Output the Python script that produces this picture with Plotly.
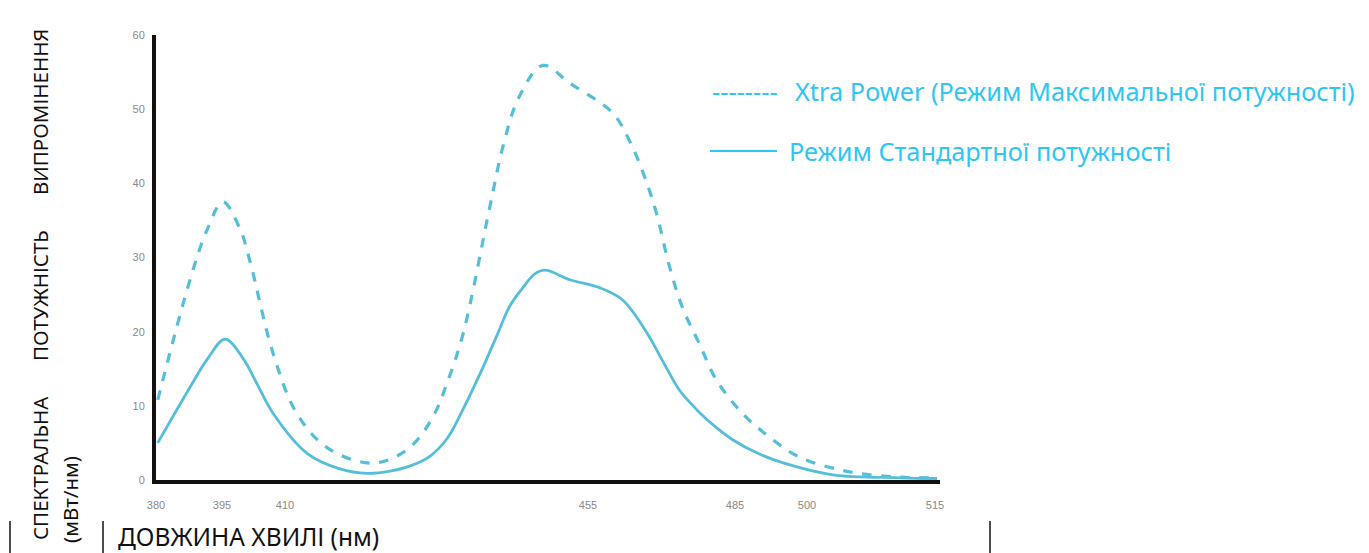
import plotly.graph_objects as go

# ---- data ----
wl_max = [380.3, 385.9, 388.9, 391.6, 394.6, 396.3, 400.3, 404.4, 409.6, 416.6, 420.6, 424.6, 428.1, 430.5,
          433.3, 437.9, 440.2, 442.9, 447.1, 451.8, 459.2, 462.1, 464.7, 466.8, 469.0, 471.3,
          474.3, 477.2, 481.7, 486.4, 491.6, 500.3, 508.9, 515.5]
pw_max = [10.8, 27.0, 33.8, 37.5, 33.8, 29.5, 17.1, 9.0, 4.4, 2.3, 2.8, 4.8, 8.6, 13.1,
          19.8, 36.8, 45.0, 51.5, 55.9, 53.5, 49.5, 45.8, 41.0, 36.0, 29.0, 23.3,
          18.3, 13.5, 9.0, 5.8, 3.1, 1.1, 0.4, 0.3]

wl_std = [380.3, 385.9, 388.9, 392.0, 395.1, 397.5, 400.3, 406.2, 411.9, 416.6, 420.6, 424.1, 427.5, 430.5,
          433.3, 436.2, 439.2, 441.4, 443.7, 445.7, 447.5, 451.8, 457.0, 460.9, 465.2, 468.0,
          470.9, 472.7, 474.4, 477.0, 480.1, 484.4, 488.8, 497.4, 509.1, 515.5]
pw_std = [5.0, 12.5, 16.3, 19.0, 16.4, 13.0, 9.0, 3.6, 1.5, 0.9, 1.2, 1.9, 3.2, 5.6,
          9.6, 14.3, 19.6, 23.5, 26.0, 27.8, 28.3, 27.0, 25.9, 24.3, 19.8, 15.9,
          12.0, 10.4, 9.0, 7.2, 5.4, 3.6, 2.3, 0.7, 0.3, 0.2]

tick_pos = [380, 391.45, 402.38, 454.94, 480.43, 492.92, 515.13]
tick_labels = ["380", "395", "410", "455", "485", "500", "515"]
y_ticks = [0, 10, 20, 30, 40, 50, 60]

name_max = "Xtra Power (Режим Максимальної потужності)"
name_std = "Режим Стандартної потужності"

curve_color = "#55BEDB"
legend_color = "#2EC6F5"
font_main = "Noto Sans, Open Sans, sans-serif"
tick_font = dict(family="Liberation Sans Narrow, Liberation Sans, sans-serif", size=11, color="#8a8a8a")

fig = go.Figure()
fig.add_trace(go.Scatter(x=wl_max, y=pw_max, mode="lines", name=name_max,
                         line=dict(color=curve_color, width=3.2, dash="dash", shape="spline", smoothing=1.0)))
fig.add_trace(go.Scatter(x=wl_std, y=pw_std, mode="lines", name=name_std,
                         line=dict(color=curve_color, width=2.8, shape="spline", smoothing=1.0)))

# page pixel frame (the browser body adds an 8px offset)
OFF = 8
W, H = 1369 - OFF, 553 - OFF
L, R, T, B = 156, 940, 35, 480          # plot area in page pixels
pw_, ph_ = R - L, B - T


def px(x):
    return (x - L) / pw_


def py(y):
    return (B - y) / ph_


annotations = []
for txt, cx, cy in [("ВИПРОМІНЕННЯ", 40, 112), ("ПОТУЖНІСТЬ", 40, 296),
                    ("СПЕКТРАЛЬНА", 40, 468), ("(мВт/нм)", 70, 500)]:
    annotations.append(dict(text=txt, x=px(cx), y=py(cy), xref="paper", yref="paper",
                            textangle=-90, showarrow=False, xanchor="center", yanchor="middle",
                            font=dict(family=font_main, size=20.5, color="#111")))
annotations.append(dict(text="ДОВЖИНА ХВИЛІ (нм)", x=px(116), y=py(536), xref="paper", yref="paper",
                        showarrow=False, xanchor="left", yanchor="middle",
                        font=dict(family=font_main, size=24.5, color="#111")))
annotations.append(dict(text="--------", x=px(710), y=py(91), xref="paper", yref="paper",
                        showarrow=False, xanchor="left", yanchor="middle",
                        font=dict(family=font_main, size=25.5, color=legend_color)))
annotations.append(dict(text=name_max, x=px(793), y=py(91), xref="paper", yref="paper",
                        showarrow=False, xanchor="left", yanchor="middle",
                        font=dict(family=font_main, size=25.3, color=legend_color)))
annotations.append(dict(text=name_std, x=px(787), y=py(151), xref="paper", yref="paper",
                        showarrow=False, xanchor="left", yanchor="middle",
                        font=dict(family=font_main, size=25.3, color=legend_color)))

shapes = [
    dict(type="line", xref="paper", yref="paper", x0=px(710), x1=px(777), y0=py(151), y1=py(151),
         line=dict(color=legend_color, width=2)),
    dict(type="line", xref="paper", yref="paper", x0=px(10), x1=px(10), y0=py(521), y1=py(556),
         line=dict(color="#111", width=1.5)),
    dict(type="line", xref="paper", yref="paper", x0=px(103), x1=px(103), y0=py(521), y1=py(556),
         line=dict(color="#111", width=1.5)),
    dict(type="line", xref="paper", yref="paper", x0=px(990), x1=px(990), y0=py(521), y1=py(556),
         line=dict(color="#111", width=1.5)),
]

fig.update_layout(
    width=W, height=H,
    margin=dict(l=L - OFF, r=W - (R - OFF), t=T - OFF, b=H - (B - OFF), pad=0),
    paper_bgcolor="white", plot_bgcolor="white",
    showlegend=False,
    annotations=annotations, shapes=shapes,
    xaxis=dict(range=[380, 516], tickmode="array", tickvals=tick_pos, ticktext=tick_labels,
               showgrid=False, zeroline=False, showline=True, linecolor="#111", linewidth=4,
               ticks="", ticklabelstandoff=12, tickfont=tick_font),
    yaxis=dict(range=[0, 60], tickmode="array", tickvals=y_ticks,
               showgrid=False, zeroline=False, showline=True, linecolor="#111", linewidth=4,
               ticks="", ticklabelstandoff=5, tickfont=tick_font),
)

fig.write_html("out.html")
